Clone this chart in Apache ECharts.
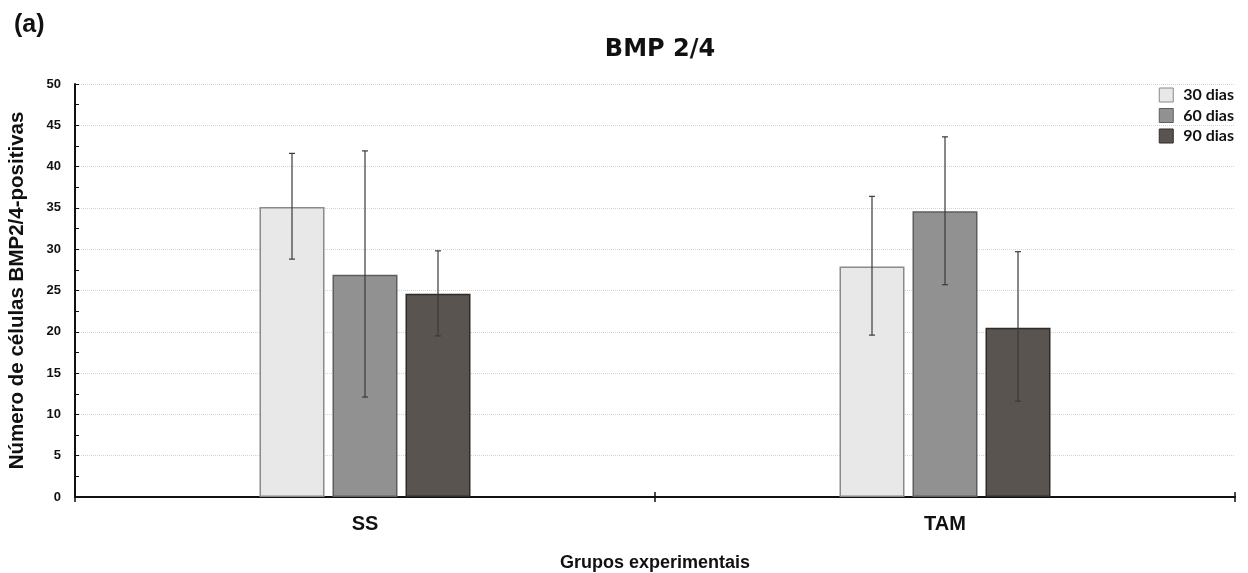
<!DOCTYPE html>
<html><head><meta charset="utf-8">
<script src="https://cdn.jsdelivr.net/npm/echarts@6/dist/echarts.min.js"></script>
<style>html,body{margin:0;padding:0;background:#fff}#c{width:1248px;height:573px}</style>
</head><body><div id="c"></div>
<script>
const categories = ['SS', 'TAM'];
const seriesNames = ['30 dias', '60 dias', '90 dias'];
const means30 = [35.1, 27.9];
const means60 = [26.9, 34.6];
const means90 = [24.6, 20.5];
const errLow30 = [28.8, 19.6];
const errHigh30 = [41.6, 36.4];
const errLow60 = [12.1, 25.7];
const errHigh60 = [41.9, 43.6];
const errLow90 = [19.5, 11.6];
const errHigh90 = [29.8, 29.7];
const yTicks = [0, 5, 10, 15, 20, 25, 30, 35, 40, 45, 50];

const means = [means30, means60, means90];
const lows = [errLow30, errLow60, errLow90];
const highs = [errHigh30, errHigh60, errHigh90];
const fills = ['#e8e8e8', '#919191', '#5a5450'];
const borders = ['#8a8a8a', '#5e5e5e', '#2e2b29'];
const BAR_W = 65, GAP = 8;

const chart = echarts.init(document.getElementById('c'), null, {renderer: 'canvas'});
const series = [];
means.forEach((m, i) => {
  series.push({
    name: seriesNames[i], type: 'bar', data: m, barWidth: BAR_W, barGap: (GAP / BAR_W * 100) + '%',
    itemStyle: {color: fills[i], borderColor: borders[i], borderWidth: 1.5},
    z: 2
  });
});
means.forEach((m, i) => {
  const off = (i - 1) * (BAR_W + GAP);
  series.push({
    name: seriesNames[i] + ' err', type: 'custom', z: 5,
    data: categories.map((c, k) => [k, lows[i][k], highs[i][k]]),
    renderItem: function (params, api) {
      const lo = api.coord([api.value(0), api.value(1)]);
      const hi = api.coord([api.value(0), api.value(2)]);
      const x = lo[0] + off, cw = 3;
      const st = {stroke: '#3a3a3a', lineWidth: 1.2};
      return {type: 'group', children: [
        {type: 'line', shape: {x1: x, y1: lo[1], x2: x, y2: hi[1]}, style: st},
        {type: 'line', shape: {x1: x - cw, y1: lo[1], x2: x + cw, y2: lo[1]}, style: st},
        {type: 'line', shape: {x1: x - cw, y1: hi[1], x2: x + cw, y2: hi[1]}, style: st}
      ]};
    },
    tooltip: {show: false}
  });
});

chart.setOption({
  animation: false,
  backgroundColor: '#fff',
  title: [
    {text: 'BMP 2/4', left: 655, top: 33, textAlign: 'center',
     textStyle: {fontFamily: 'DejaVu Sans', fontWeight: 'bold', fontSize: 24, color: '#111'}},
    {text: '(a)', left: 9, top: 8,
     textStyle: {fontFamily: 'Liberation Sans', fontWeight: 'bold', fontSize: 25, color: '#111'}}
  ],
  legend: {
    data: seriesNames, orient: 'vertical', right: 9, top: 82, itemWidth: 14, itemHeight: 14, itemGap: 4.5,
    icon: 'rect',
    textStyle: {fontFamily: 'Lato', fontWeight: 'bold', fontSize: 16, lineHeight: 14, color: '#111', padding: [0, 0, 0, 5]},
    itemStyle: {borderWidth: 1}
  },
  grid: {left: 75, right: 13, top: 84, bottom: 76, containLabel: false, outerBoundsMode: 'none'},
  xAxis: [{
    type: 'category', data: categories,
    name: 'Grupos experimentais', nameLocation: 'middle', nameGap: 57,
    nameTextStyle: {fontFamily: 'Liberation Sans', fontWeight: 'bold', fontSize: 18, color: '#111'},
    axisLine: {lineStyle: {color: '#111', width: 2}},
    axisTick: {show: true, length: 5, lineStyle: {color: '#111', width: 1.5}},
    axisLabel: {fontFamily: 'Liberation Sans', fontWeight: 'bold', fontSize: 20, color: '#111', margin: 17}
  }, {
    type: 'category', data: categories, position: 'bottom',
    axisLine: {show: false}, axisLabel: {show: false},
    axisTick: {show: true, inside: true, length: 5, lineStyle: {color: '#111', width: 1.5}}
  }],
  yAxis: {
    type: 'value', min: 0, max: 50, interval: 5,
    name: 'Número de células BMP2/4-positivas', nameLocation: 'middle', nameGap: 47,
    nameTextStyle: {fontFamily: 'Liberation Sans', fontWeight: 'bold', fontSize: 20.5, color: '#111'},
    axisLine: {show: true, lineStyle: {color: '#111', width: 2}},
    axisTick: {show: true, inside: true, length: 4, lineStyle: {color: '#111'}},
    minorTick: {show: true, splitNumber: 2, length: 4, lineStyle: {color: '#111'}},
    axisLabel: {fontFamily: 'Liberation Sans', fontWeight: 'bold', fontSize: 13, color: '#111', margin: 14,
      formatter: v => yTicks.includes(v) ? String(v) : ''},
    splitLine: {show: true, lineStyle: {color: '#d4d4d4', type: 'dotted', width: 1}}
  },
  series: series
});
</script></body></html>
